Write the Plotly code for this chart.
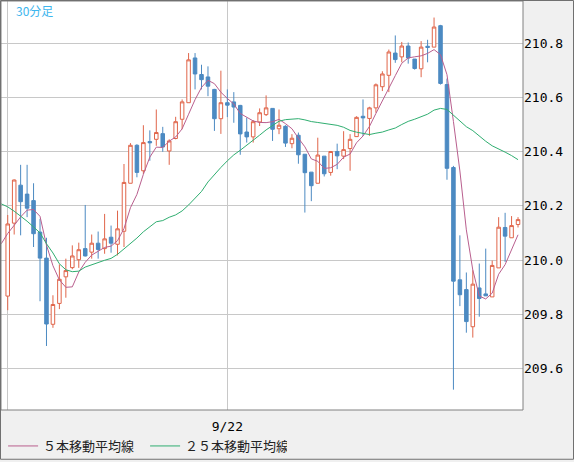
import plotly.graph_objects as go

# ---- data (30-minute bars) ----
bar_index = list(range(80))
opens = [209.867, 210.136, 210.276, 210.243, 210.219, 210.103, 210.007, 209.763, 209.840, 209.938,
         209.972, 210.001, 210.042, 210.029, 210.062, 210.042, 210.084, 210.058, 210.106, 210.283,
         210.423, 210.329, 210.437, 210.445, 210.466, 210.402, 210.448, 210.519, 210.580, 210.745,
         210.684, 210.675, 210.629, 210.521, 210.580, 210.583, 210.570, 210.472, 210.454, 210.509,
         210.536, 210.559, 210.484, 210.493, 210.429, 210.460, 210.390, 210.324, 210.283, 210.383,
         210.323, 210.400, 210.383, 210.411, 210.455, 210.530, 210.522, 210.561, 210.639, 210.681,
         210.763, 210.749, 210.789, 210.741, 210.705, 210.788, 210.785, 210.864, 210.647, 210.341,
         209.927, 209.891, 209.754, 209.897, 209.875, 209.864, 209.971, 210.120, 210.082, 210.131]
highs = [210.166, 210.297, 210.351, 210.351, 210.283, 210.152, 210.082, 209.870, 209.984, 210.005,
         210.054, 210.064, 210.203, 210.094, 210.105, 210.170, 210.127, 210.182, 210.354, 210.431,
         210.427, 210.497, 210.478, 210.555, 210.491, 210.445, 210.528, 210.592, 210.763, 210.763,
         210.720, 210.714, 210.631, 210.698, 210.629, 210.619, 210.572, 210.525, 210.516, 210.559,
         210.607, 210.559, 210.555, 210.497, 210.464, 210.470, 210.390, 210.324, 210.451, 210.383,
         210.402, 210.429, 210.475, 210.464, 210.530, 210.592, 210.565, 210.651, 210.696, 210.776,
         210.828, 210.804, 210.802, 210.741, 210.807, 210.812, 210.894, 210.867, 210.669, 210.347,
         210.091, 209.954, 209.962, 209.987, 210.042, 209.998, 210.158, 210.174, 210.162, 210.158]
lows = [209.815, 210.094, 210.091, 210.158, 210.048, 209.848, 209.683, 209.750, 209.819, 209.861,
        209.966, 209.971, 210.013, 210.005, 210.005, 210.023, 210.027, 210.017, 210.048, 210.283,
        210.305, 210.317, 210.366, 210.421, 210.399, 210.351, 210.445, 210.482, 210.580, 210.629,
        210.629, 210.604, 210.476, 210.465, 210.527, 210.506, 210.388, 210.433, 210.433, 210.494,
        210.531, 210.439, 210.464, 210.417, 210.412, 210.355, 210.175, 210.217, 210.283, 210.308,
        210.311, 210.335, 210.372, 210.329, 210.455, 210.458, 210.458, 210.543, 210.623, 210.619,
        210.727, 210.729, 210.724, 210.702, 210.674, 210.729, 210.785, 210.647, 210.296, 209.522,
        209.830, 209.732, 209.714, 209.791, 209.867, 209.864, 209.971, 209.993, 210.082, 210.120]
closes = [210.133, 210.295, 210.215, 210.191, 210.097, 210.007, 209.764, 209.836, 209.929, 209.961,
          210.015, 210.038, 210.015, 210.062, 210.039, 210.078, 210.062, 210.115, 210.286, 210.423,
          210.323, 210.433, 210.432, 210.470, 210.417, 210.439, 210.510, 210.583, 210.738, 210.686,
          210.665, 210.641, 210.521, 210.580, 210.571, 210.564, 210.465, 210.454, 210.510, 210.543,
          210.561, 210.482, 210.497, 210.431, 210.449, 210.388, 210.322, 210.274, 210.387, 210.318,
          210.400, 210.384, 210.407, 210.445, 210.526, 210.524, 210.561, 210.646, 210.686, 210.767,
          210.739, 210.789, 210.745, 210.706, 210.785, 210.784, 210.859, 210.651, 210.338, 209.922,
          209.872, 209.773, 209.911, 209.858, 209.868, 209.980, 210.121, 210.088, 210.127, 210.149]

ma5_head = [210.060, 210.098, 210.128, 210.159, 210.184]          # bars -1..3
ma25_head = [210.207, 210.196, 210.180, 210.162, 210.143, 210.122, 210.100, 210.060,
             210.026, 209.986, 209.964, 209.957, 209.959, 209.974, 209.983, 209.991,
             209.999, 210.006, 210.021, 210.041, 210.060, 210.081, 210.104, 210.122,
             210.141]                                                 # bars -1..23

y_ticks = [209.6, 209.8, 210.0, 210.2, 210.4, 210.6, 210.8]
x_tick_pos = [0, 34]
x_tick_text = ["", "9/22"]
ma5_name = "５本移動平均線"
ma25_name = "２５本移動平均線"
title_text = "30分足"

# ---- moving averages ----
def moving_avg(vals, n, head):
    out = list(head)
    for i in range(n - 1, len(vals)):
        out.append(sum(vals[i - n + 1:i + 1]) / n)
    return out

ma5 = moving_avg(closes, 5, ma5_head)
ma25 = moving_avg(closes, 25, ma25_head)
ma_x = list(range(-1, 80))

UP = "#E0654A"
DOWN = "#4C8AC2"
MA5_C = "#B95F8E"
MA25_C = "#2FAE70"
GRID = "#C8C8C8"

fig = go.Figure()
fig.add_trace(go.Candlestick(
    x=bar_index, open=opens, high=highs, low=lows, close=closes,
    increasing=dict(line=dict(color=UP, width=1), fillcolor="#FFFFFF"),
    decreasing=dict(line=dict(color=DOWN, width=1), fillcolor=DOWN),
    whiskerwidth=0, showlegend=False, hoverinfo="skip"))
fig.add_trace(go.Scatter(x=ma_x, y=ma5, mode="lines", name=ma5_name,
                         line=dict(color=MA5_C, width=1), hoverinfo="skip"))
fig.add_trace(go.Scatter(x=ma_x, y=ma25, mode="lines", name=ma25_name,
                         line=dict(color=MA25_C, width=1), hoverinfo="skip"))

PW, PH = 522, 411
fig.update_layout(
    width=574, height=462,
    margin=dict(l=1, r=51, t=1, b=50, pad=0),
    paper_bgcolor="#F0F0F0", plot_bgcolor="#FFFFFF",
    boxgap=0.22,
    showlegend=True,
    legend=dict(orientation="h", x=0.004, xanchor="left", y=-0.088, yanchor="middle",
                font=dict(family="Noto Sans CJK JP", size=13, color="#222222"),
                bgcolor="rgba(0,0,0,0)", itemclick=False, itemdoubleclick=False,
                entrywidth=97, entrywidthmode="pixels", tracegroupgap=0),
    xaxis=dict(range=[-1.04, 79.77], showgrid=True, gridcolor=GRID, gridwidth=1,
               tickmode="array", tickvals=x_tick_pos, ticktext=x_tick_text,
               zeroline=False, showline=False, rangeslider=dict(visible=False),
               ticks="", ticklabelstandoff=7,
               tickfont=dict(family="DejaVu Sans Mono", size=13, color="#000000"),
               fixedrange=True),
    yaxis=dict(range=[209.447, 210.955], side="right", showgrid=True, gridcolor=GRID,
               gridwidth=1, tickmode="array", tickvals=y_ticks,
               ticktext=[f"{v:.1f}" for v in y_ticks], zeroline=False, showline=False,
               ticks="", tickfont=dict(family="DejaVu Sans Mono", size=13, color="#000000"),
               fixedrange=True),
    shapes=[
        dict(type="rect", xref="paper", yref="paper", x0=0, x1=1, y0=0, y1=1,
             line=dict(color="#808080", width=1), fillcolor="rgba(0,0,0,0)", layer="above"),
        dict(type="rect", xref="paper", yref="paper",
             x0=-0.5 / PW, x1=572.5 / PW, y0=(412 - 461.5) / PH, y1=1 + 0.5 / PH,
             line=dict(color="#707070", width=1), fillcolor="rgba(0,0,0,0)", layer="above"),
    ],
    annotations=[dict(text=title_text, xref="paper", yref="paper", x=13 / PW, y=(412 - 11) / PH,
                      xanchor="left", yanchor="middle", showarrow=False,
                      font=dict(family="Noto Sans CJK JP", size=12, color="#3CB6EE"))],
)

fig.write_html("out.html", config={"displayModeBar": False},
               post_script="document.body.style.margin='0';document.body.style.overflow='hidden';")
